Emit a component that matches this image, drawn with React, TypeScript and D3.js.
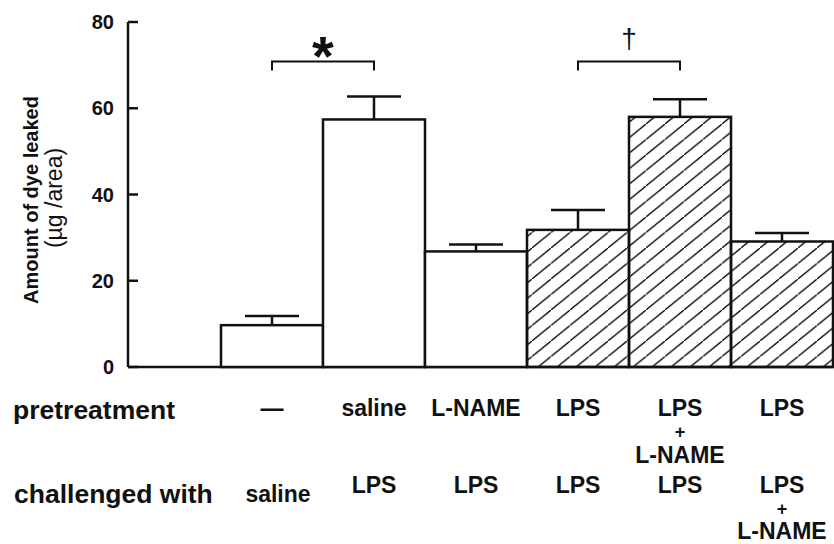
import React, { useEffect } from "react";
import * as d3 from "d3";

const groups = ["g1", "g2", "g3", "g4", "g5", "g6"];
const values = [9.7, 57.4, 26.8, 31.8, 58.0, 29.1];
const errors = [2.1, 5.3, 1.6, 4.6, 4.1, 2.0];
const hatched = [false, false, false, true, true, true];
const pretreatment = [["—"], ["saline"], ["L-NAME"], ["LPS"], ["LPS", "+", "L-NAME"], ["LPS"]];
const challenged = [["saline"], ["LPS"], ["LPS"], ["LPS"], ["LPS"], ["LPS", "+", "L-NAME"]];
const yTicks = [0, 20, 40, 60, 80];
const brackets = [
  { from: 0, to: 1, mark: "*" },
  { from: 3, to: 4, mark: "†" },
];

const W = 834;
const H = 544;
const FONT = "'Liberation Sans', Arial, Helvetica, sans-serif";

function Stack({ lines, x, y0, big, offs }: { lines: string[]; x: number; y0: number; big: number; offs: number[] }) {
  return (
    <g>
      {lines.map((l, j) => (
        <text
          key={j}
          x={x}
          y={y0 + (lines.length === 3 ? offs[j] : 0)}
          textAnchor="middle"
          fontFamily={FONT}
          fontWeight="bold"
          fontSize={l === "+" ? 18 : big}
          fill="#111"
        >
          {l}
        </text>
      ))}
    </g>
  );
}

export default function App() {
  useEffect(() => {
    document.body.style.margin = "0";
  }, []);
  const axisX = 128;
  const y = d3.scaleLinear().domain([0, 80]).range([367, 22]);
  const x = d3.scaleBand<string>().domain(groups).range([221, 833]).padding(0);
  const bw = x.bandwidth();
  const cx = (i: number) => (x(groups[i]) as number) + bw / 2;
  const capW = 54;

  return (
    <svg width={W} height={H} style={{ display: "block", background: "#fff" }}>
      <defs>
        <pattern id="hatch" patternUnits="userSpaceOnUse" width={19} height={15.5}>
          <line x1={-1} y1={16.3} x2={20} y2={-0.8} stroke="#111" strokeWidth={1.4} />
        </pattern>
      </defs>
      {/* y axis */}
      <line x1={axisX} x2={axisX} y1={y(80)} y2={y(0)} stroke="#111" strokeWidth={2.5} />
      {yTicks.map((t) => (
        <g key={t}>
          <line x1={axisX} x2={axisX + 10} y1={y(t)} y2={y(t)} stroke="#111" strokeWidth={2.5} />
          <text x={114} y={y(t)} dy="0.36em" textAnchor="end" fontFamily={FONT} fontWeight="bold" fontSize={20} fill="#111">
            {t}
          </text>
        </g>
      ))}
      <text transform={`translate(31,200) rotate(-90)`} textAnchor="middle" fontFamily={FONT} fontWeight="bold" fontSize={20} fill="#111" dy="0.36em">
        Amount of dye leaked
      </text>
      <text transform={`translate(54,198) rotate(-90)`} textAnchor="middle" fontFamily={FONT} fontSize={23} fill="#111" dy="0.36em">
        (µg /area)
      </text>
      {/* baseline */}
      <line x1={axisX} x2={833} y1={y(0)} y2={y(0)} stroke="#111" strokeWidth={2.5} />
      {/* bars */}
      {groups.map((g, i) => (
        <g key={g}>
          <line x1={cx(i)} x2={cx(i)} y1={y(values[i])} y2={y(values[i] + errors[i])} stroke="#111" strokeWidth={2.5} />
          <line x1={cx(i) - capW / 2} x2={cx(i) + capW / 2} y1={y(values[i] + errors[i])} y2={y(values[i] + errors[i])} stroke="#111" strokeWidth={2.5} />
          <rect
            x={x(g)}
            y={y(values[i])}
            width={bw}
            height={y(0) - y(values[i])}
            fill={hatched[i] ? "url(#hatch)" : "#fff"}
            stroke="#111"
            strokeWidth={2.5}
          />
        </g>
      ))}
      {/* significance brackets */}
      {brackets.map((b, k) => {
        const x1 = cx(b.from);
        const x2 = cx(b.to);
        const yb = 61.5;
        return (
          <g key={k}>
            <path d={`M${x1},${yb + 9}V${yb}H${x2}V${yb + 9}`} fill="none" stroke="#111" strokeWidth={2} />
            {b.mark === "*" ? (
              <text x={(x1 + x2) / 2} y={75} textAnchor="middle" fontFamily={FONT} fontWeight="bold" fontSize={56} fill="#111">
                {b.mark}
              </text>
            ) : (
              <text x={(x1 + x2) / 2} y={48} textAnchor="middle" fontFamily={FONT} fontSize={28} fill="#111">
                {b.mark}
              </text>
            )}
          </g>
        );
      })}
      {/* category label rows */}
      <text x={13} y={419} fontFamily={FONT} fontWeight="bold" fontSize={26.5} fill="#111">pretreatment</text>
      <text x={14} y={503} fontFamily={FONT} fontWeight="bold" fontSize={26.5} fill="#111">challenged with</text>
      {pretreatment.map((lines, i) => (
        <Stack key={"p" + i} lines={lines} x={cx(i)} y0={416} big={23} offs={[0, 22, 47]} />
      ))}
      {challenged.map((lines, i) => (
        <Stack key={"c" + i} lines={lines} x={cx(i) + (i === 0 ? 6 : 0)} y0={i === 0 ? 502 : 493} big={23} offs={[0, 22, 46]} />
      ))}
    </svg>
  );
}
